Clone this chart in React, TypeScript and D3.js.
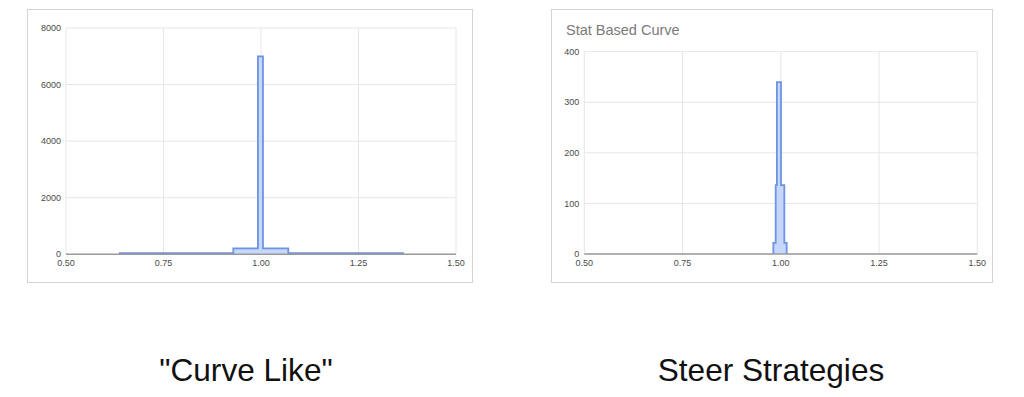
import React from "react";
import * as d3 from "d3";

// ---- Data ----
const xTicks = [0.5, 0.75, 1.0, 1.25, 1.5];

const curveLikeEdges = [0.638, 0.929, 0.992, 1.005, 1.07, 1.364];
const curveLikeCounts = [45, 210, 7000, 210, 45];
const curveLikeYTicks = [0, 2000, 4000, 6000, 8000];

const statEdges = [0.981, 0.987, 0.99, 1.0005, 1.009, 1.015];
const statCounts = [22, 136, 340, 136, 22];
const statYTicks = [0, 100, 200, 300, 400];

const captions = ['"Curve Like"', "Steer Strategies"];
const statTitle = "Stat Based Curve";

const W = 1024;
const H = 397;

type Panel = {
  frame: { x: number; y: number; w: number; h: number };
  plot: { x0: number; x1: number; y0: number; y1: number };
  edges: number[];
  counts: number[];
  yTicks: number[];
  title?: string;
};

const FONT = "Arial, 'Liberation Sans', sans-serif";

function HistPanel({ p }: { p: Panel }) {
  const x = d3.scaleLinear().domain([0.5, 1.5]).range([p.plot.x0, p.plot.x1]);
  const yMax = p.yTicks[p.yTicks.length - 1];
  const y = d3.scaleLinear().domain([0, yMax]).range([p.plot.y1, p.plot.y0]);

  const pts: [number, number][] = [];
  pts.push([p.edges[0], 0]);
  p.counts.forEach((c, i) => {
    pts.push([p.edges[i], c]);
    pts.push([p.edges[i + 1], c]);
  });
  pts.push([p.edges[p.edges.length - 1], 0]);

  const area = d3
    .area<[number, number]>()
    .x((d) => x(d[0]))
    .y0(y(0))
    .y1((d) => y(d[1]));
  const line = d3
    .line<[number, number]>()
    .x((d) => x(d[0]))
    .y((d) => y(d[1]));

  return (
    <g>
      <rect
        x={p.frame.x + 0.5}
        y={p.frame.y + 0.5}
        width={p.frame.w}
        height={p.frame.h}
        fill="#fff"
        stroke="#d4d4d4"
        strokeWidth={1}
      />
      {p.title && (
        <text
          x={p.frame.x + 15}
          y={p.frame.y + 26}
          fontFamily={FONT}
          fontSize={14.5}
          fill="#7a7a7a"
        >
          {p.title}
        </text>
      )}
      {/* gridlines */}
      {p.yTicks.map((t) => (
        <line
          key={"gy" + t}
          x1={p.plot.x0}
          x2={p.plot.x1}
          y1={y(t)}
          y2={y(t)}
          stroke="#e6e6e6"
          strokeWidth={1}
        />
      ))}
      {xTicks.map((t) => (
        <line
          key={"gx" + t}
          x1={x(t)}
          x2={x(t)}
          y1={p.plot.y0}
          y2={p.plot.y1}
          stroke="#e6e6e6"
          strokeWidth={1}
        />
      ))}
      {/* histogram */}
      <path d={area(pts) || ""} fill="#c5d7fa" stroke="none" />
      <path
        d={line(pts) || ""}
        fill="none"
        stroke="#6f93e2"
        strokeWidth={1.8}
        strokeLinejoin="miter"
      />
      {/* baseline */}
      <line
        x1={p.plot.x0}
        x2={p.plot.x1}
        y1={y(0)}
        y2={y(0)}
        stroke="#9a9a9a"
        strokeWidth={1.5}
      />
      {/* y labels */}
      {p.yTicks.map((t) => (
        <text
          key={"ly" + t}
          x={p.plot.x0 - 5}
          y={y(t)}
          dy="0.35em"
          textAnchor="end"
          fontFamily={FONT}
          fontSize={9}
          fill="#4a4a4a"
        >
          {t}
        </text>
      ))}
      {/* x labels */}
      {xTicks.map((t) => (
        <text
          key={"lx" + t}
          x={x(t)}
          y={p.plot.y1 + 8.5}
          dy="0.35em"
          textAnchor="middle"
          fontFamily={FONT}
          fontSize={9}
          fill="#4a4a4a"
        >
          {d3.format(".2f")(t)}
        </text>
      ))}
    </g>
  );
}

export default function App() {
  const panels: Panel[] = [
    {
      frame: { x: 27, y: 9, w: 445, h: 273 },
      plot: { x0: 66, x1: 456, y0: 28, y1: 254.3 },
      edges: curveLikeEdges,
      counts: curveLikeCounts,
      yTicks: curveLikeYTicks,
    },
    {
      frame: { x: 551, y: 9, w: 441, h: 273 },
      plot: { x0: 584.3, x1: 977.3, y0: 51.7, y1: 254 },
      edges: statEdges,
      counts: statCounts,
      yTicks: statYTicks,
      title: statTitle,
    },
  ];
  const captionX = [246, 771];
  return (
    <svg
      width={W}
      height={H}
      style={{ position: "absolute", left: 0, top: 0, background: "#fff" }}
    >
      <rect x={0} y={0} width={W} height={H} fill="#fff" />
      {panels.map((p, i) => (
        <HistPanel key={i} p={p} />
      ))}
      {captions.map((c, i) => (
        <text
          key={c}
          x={captionX[i]}
          y={381}
          textAnchor="middle"
          fontFamily={FONT}
          fontSize={31.6}
          fill="#111"
        >
          {c}
        </text>
      ))}
    </svg>
  );
}
